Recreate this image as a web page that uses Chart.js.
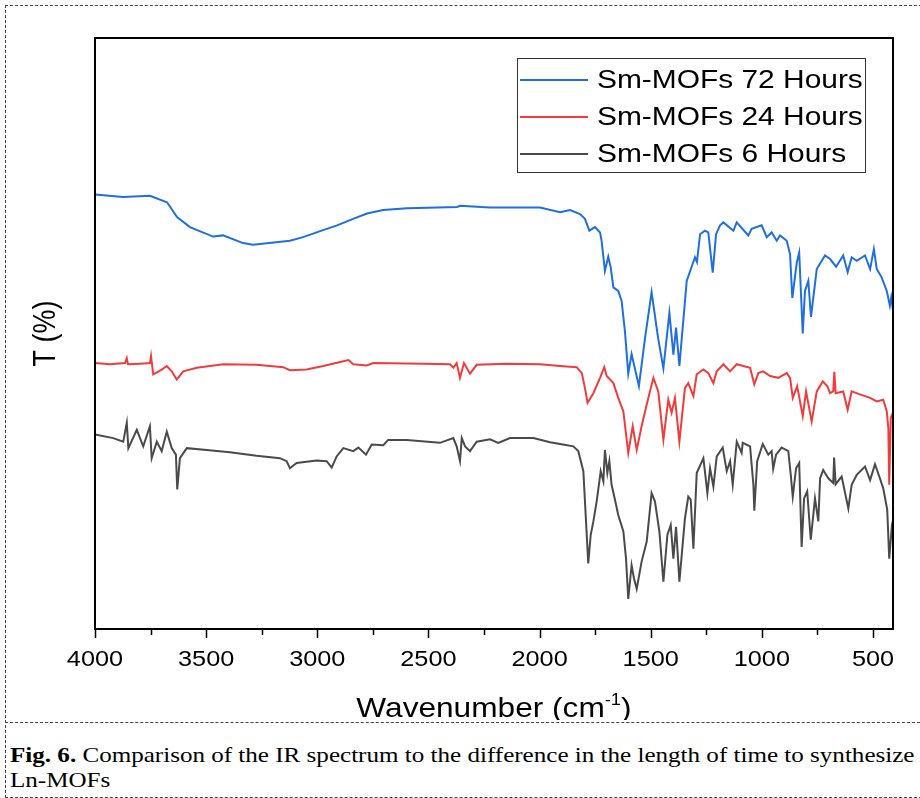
<!DOCTYPE html>
<html>
<head>
<meta charset="utf-8">
<script src="https://cdn.jsdelivr.net/npm/chart.js@4"></script>
<style>
  html, body { margin: 0; padding: 0; background: #fff; }
  body { width: 920px; height: 798px; position: relative; overflow: hidden; }
  #wrap { position: absolute; left: 0; top: 0; width: 920px; height: 720px; }
  #frame { position: absolute; left: 5px; top: 5px; width: 940px; height: 791px; border: 1px dashed #444; }
  #sep { position: absolute; left: 5px; top: 722px; width: 940px; border-top: 1px dashed #444; }
  #caption { position: absolute; left: 10px; top: 743px; font-family: "Liberation Serif", "Times New Roman", serif; font-size: 21.8px; line-height: 25px; color: #000; white-space: nowrap; transform: scaleX(1.15); transform-origin: 0 0; }
</style>
</head>
<body>
<div id="frame"></div>
<div id="wrap"><canvas id="irChart" width="920" height="720"></canvas></div>
<div id="sep"></div>
<div id="caption"><b>Fig. 6.</b> Comparison of the IR spectrum to the difference in the length of time to synthesize<br>Ln-MOFs</div>
<script>
const seriesNames = ['Sm-MOFs 72 Hours', 'Sm-MOFs 24 Hours', 'Sm-MOFs 6 Hours'];
const seriesColors = ['#1f6fdf', '#f03c3c', '#4a4a4a'];
const xTicks = [4000, 3500, 3000, 2500, 2000, 1500, 1000, 500];

// 72 h
const wn72 = [4000, 3874, 3753, 3676, 3631, 3573, 3469, 3424, 3334, 3289, 3123, 3064, 2974, 2911, 2839, 2776, 2704, 2596, 2371, 2358, 2223, 1998,
  1908, 1863, 1818, 1796, 1776, 1751, 1728, 1721, 1706, 1691, 1680, 1668, 1646, 1631, 1616, 1601, 1586, 1553, 1526, 1496, 1467, 1443, 1416,
  1398, 1386, 1371, 1338, 1301, 1292, 1278, 1256, 1241, 1221, 1206, 1188, 1173, 1128, 1113, 1061, 1046, 1001, 978, 956, 933, 918, 888, 873,
  863, 843, 832, 816, 806, 791, 779, 753, 716, 693, 666, 634, 614, 596, 573, 536, 513, 496, 483, 461, 438, 424, 418, 410];
const t72 = [73.5, 73.1, 73.3, 72.2, 69.7, 68.0, 66.4, 66.6, 65.3, 65.0, 65.7, 66.3, 67.5, 68.3, 69.4, 70.3, 70.9, 71.2, 71.4, 71.6, 71.3, 71.3,
  70.5, 70.9, 70.2, 69.4, 67.4, 68.0, 67.1, 65.7, 60.6, 63.0, 61.2, 57.8, 57.2, 55.5, 50.4, 43.2, 46.5, 41.1, 49.1, 57.0, 49.3, 44.1, 53.5,
  46.4, 51.0, 44.5, 58.9, 62.9, 62.1, 66.8, 67.4, 67.1, 60.3, 66.8, 68.3, 68.8, 67.4, 68.8, 66.6, 67.7, 68.3, 66.3, 67.1, 65.7, 66.6, 65.7, 63.4,
  56.0, 62.0, 63.7, 50.0, 57.2, 58.9, 52.8, 60.9, 63.2, 62.6, 61.3, 63.2, 60.4, 62.9, 62.3, 63.2, 60.9, 64.3, 60.9, 59.5, 57.2, 54.7, 56.1, 54.0];

// 24 h
const wn24 = [4000, 3933, 3865, 3857, 3852, 3798, 3753, 3748, 3738, 3700, 3677, 3655, 3632, 3603, 3542, 3423, 3273, 3153, 3123, 3048, 2973,
  2883, 2860, 2838, 2778, 2748, 2523, 2403, 2388, 2373, 2358, 2340, 2313, 2283, 2148, 1998, 1908, 1833, 1810, 1796, 1784, 1758, 1728, 1709,
  1698, 1668, 1646, 1623, 1601, 1581, 1563, 1541, 1518, 1488, 1466, 1443, 1421, 1406, 1391, 1371, 1346, 1331, 1308, 1293, 1263, 1241, 1218,
  1203, 1173, 1143, 1113, 1053, 1034, 1016, 994, 963, 926, 888, 873, 861, 841, 816, 801, 776, 753, 726, 706, 693, 679, 674, 668, 634, 614,
  596, 559, 513, 483, 454, 438, 431, 427, 420, 410];
const t24 = [45.0, 44.8, 45.0, 45.8, 44.8, 44.9, 45.0, 46.2, 43.1, 43.9, 44.5, 43.6, 42.2, 43.6, 44.2, 44.8, 44.7, 44.3, 43.8, 43.9, 44.5,
  45.3, 45.5, 44.8, 44.6, 45.0, 44.9, 44.8, 44.2, 45.0, 42.5, 45.0, 43.2, 44.7, 44.9, 44.8, 44.5, 44.3, 43.3, 40.8, 38.3, 39.9, 42.5, 44.3,
  42.8, 41.6, 39.1, 36.8, 29.8, 34.3, 30.3, 34.3, 38.0, 42.5, 40.2, 32.0, 38.8, 36.6, 39.1, 31.7, 40.8, 41.6, 39.4, 43.1, 43.9, 43.3, 41.6,
  43.6, 44.8, 43.6, 44.8, 44.2, 41.4, 43.3, 43.6, 42.8, 42.5, 43.3, 42.5, 39.1, 41.1, 36.0, 40.2, 35.1, 40.2, 41.9, 41.1, 39.9, 40.2, 43.5, 39.9, 40.2, 37.1,
  40.2, 39.7, 39.1, 38.5, 38.8, 36.8, 34.0, 24.4, 35.7, 36.6];

// 6 h
const wn6 = [4000, 3918, 3873, 3857, 3850, 3812, 3783, 3753, 3745, 3722, 3700, 3677, 3655, 3636, 3630, 3618, 3587, 3498, 3393, 3273, 3168,
  3138, 3123, 3093, 3003, 2958, 2935, 2913, 2883, 2838, 2815, 2781, 2755, 2703, 2681, 2598, 2448, 2388, 2373, 2358, 2350, 2335, 2313, 2283,
  2223, 2186, 2133, 2028, 1953, 1908, 1848, 1826, 1803, 1791, 1781, 1770, 1758, 1743, 1725, 1713, 1706, 1695, 1686, 1676, 1661, 1646, 1623,
  1611, 1601, 1586, 1575, 1563, 1541, 1518, 1496, 1481, 1461, 1443, 1425, 1410, 1398, 1386, 1371, 1346, 1331, 1320, 1308, 1293, 1263, 1245,
  1233, 1218, 1203, 1176, 1158, 1143, 1131, 1113, 1091, 1086, 1053, 1038, 1034, 1021, 996, 971, 956, 949, 936, 911, 881, 870, 861, 846, 832,
  821, 810, 796, 780, 761, 746, 738, 724, 701, 679, 675, 668, 641, 611, 596, 573, 536, 513, 491, 469, 454, 436, 427, 416, 410];
const t6 = [32.9, 32.3, 31.7, 34.9, 30.6, 33.7, 30.9, 34.3, 28.9, 31.7, 30.1, 33.4, 30.6, 29.5, 23.6, 28.9, 30.6, 30.3, 29.9, 29.3, 28.9,
  28.4, 27.2, 28.1, 28.5, 28.4, 27.3, 29.2, 30.6, 30.1, 30.7, 29.5, 31.2, 31.1, 32.0, 32.0, 31.5, 32.3, 30.9, 28.4, 32.3, 30.9, 30.1, 31.7,
  32.1, 31.5, 32.3, 32.3, 31.6, 31.3, 30.9, 30.1, 26.7, 18.2, 11.1, 15.9, 18.2, 21.6, 26.7, 25.0, 30.3, 26.4, 28.4, 24.4, 21.9, 19.3, 16.5,
  11.9, 5.1, 10.8, 8.5, 6.8, 11.4, 14.8, 23.0, 21.6, 16.5, 8.0, 15.9, 17.6, 11.9, 17.3, 8.0, 18.7, 22.4, 21.9, 13.6, 26.4, 28.9, 23.0,
  27.2, 24.1, 29.2, 30.7, 26.7, 28.4, 24.4, 31.7, 29.8, 31.5, 30.9, 24.4, 20.0, 28.4, 31.3, 29.5, 30.1, 27.1, 29.5, 30.7, 30.1, 26.1, 22.4, 27.2, 28.1,
  13.9, 22.1, 23.3, 15.1, 22.1, 18.2, 25.5, 26.9, 25.5, 24.7, 29.0, 24.5, 25.8, 20.4, 24.4, 26.1, 27.5, 25.2, 27.9, 25.5, 23.8, 20.2, 11.9, 17.0, 15.6];

const toPoints = (xs, ys) => xs.map((x, i) => ({ x: x, y: ys[i] }));

// the source figure is stretched sideways a little, so its text is too
const STRETCH = 1.15;
const FONT = '"Liberation Sans", Arial, sans-serif';

function wideText(c, text, x, y, font, align) {
  c.save();
  c.font = font;
  c.textAlign = align || 'left';
  c.translate(x, y);
  c.scale(STRETCH, 1);
  c.fillText(text, 0, 0);
  c.restore();
}

const frameAndLabels = {
  id: 'frameAndLabels',
  afterDraw(chart) {
    const c = chart.ctx;
    const a = chart.chartArea;
    const xs = chart.scales.x;
    c.save();
    // box
    c.strokeStyle = '#000';
    c.lineWidth = 2;
    c.strokeRect(a.left, a.top, a.right - a.left, a.bottom - a.top);
    // ticks and tick labels
    c.lineWidth = 1.5;
    c.fillStyle = '#000';
    c.textBaseline = 'alphabetic';
    for (let v = 4000; v >= 500; v -= 250) {
      const px = Math.round(xs.getPixelForValue(v)) + 0.5;
      const major = v % 500 === 0;
      c.beginPath();
      c.moveTo(px, a.bottom);
      c.lineTo(px, a.bottom + (major ? 9 : 6));
      c.stroke();
    }
    xTicks.forEach(v => {
      wideText(c, String(v), xs.getPixelForValue(v), a.bottom + 37, '22px ' + FONT, 'center');
    });
    // x title with superscript
    const big = '27.5px ' + FONT, small = '16px ' + FONT;
    const p1 = 'Wavenumber (cm', p2 = '-1', p3 = ')';
    c.font = big; const w1 = c.measureText(p1).width * STRETCH, w3 = c.measureText(p3).width * STRETCH;
    c.font = small; const w2 = c.measureText(p2).width * STRETCH;
    let tx = (a.left + a.right) / 2 - (w1 + w2 + w3) / 2;
    const ty = a.bottom + 88;
    wideText(c, p1, tx, ty, big); tx += w1;
    wideText(c, p2, tx, ty - 12, small); tx += w2;
    wideText(c, p3, tx, ty, big);
    // y title
    c.save();
    c.translate(46, (a.top + a.bottom) / 2);
    c.scale(STRETCH, 1);
    c.rotate(-Math.PI / 2);
    c.textAlign = 'center';
    c.textBaseline = 'middle';
    c.font = '27px ' + FONT;
    c.fillText('T (%)', 0, 0);
    c.restore();
    // legend
    const lx = 517, ly = 58, lw = 348, lh = 114;
    c.fillStyle = '#fff';
    c.fillRect(lx, ly, lw, lh);
    c.strokeStyle = '#333';
    c.lineWidth = 1;
    c.strokeRect(lx + 0.5, ly + 0.5, lw, lh);
    c.textBaseline = 'middle';
    seriesNames.forEach((name, i) => {
      const y = ly + 22 + i * 37;
      c.strokeStyle = seriesColors[i];
      c.lineWidth = 2;
      c.beginPath();
      c.moveTo(lx + 3, y);
      c.lineTo(lx + 71, y);
      c.stroke();
      c.fillStyle = '#000';
      wideText(c, name, lx + 80, y + 1, '26px ' + FONT);
    });
    c.restore();
  }
};

new Chart(document.getElementById('irChart'), {
  type: 'line',
  data: {
    datasets: [
      { label: seriesNames[0], data: toPoints(wn72, t72), borderColor: seriesColors[0] },
      { label: seriesNames[1], data: toPoints(wn24, t24), borderColor: seriesColors[1] },
      { label: seriesNames[2], data: toPoints(wn6, t6), borderColor: seriesColors[2] }
    ]
  },
  options: {
    responsive: false,
    animation: false,
    parsing: false,
    layout: { padding: { left: 87, right: 27, top: 38, bottom: 83 } },
    elements: {
      line: { borderWidth: 2, tension: 0 },
      point: { radius: 0 }
    },
    scales: {
      x: {
        type: 'linear',
        reverse: true,
        min: 410,
        max: 4000,
        afterBuildTicks: (axis) => { axis.ticks = xTicks.map(v => ({ value: v })); },
        grid: { display: false },
        border: { display: false },
        ticks: { display: false }
      },
      y: {
        min: 0,
        max: 100,
        grid: { display: false },
        border: { display: false },
        ticks: { display: false }
      }
    },
    plugins: {
      legend: { display: false },
      tooltip: { enabled: false }
    }
  },
  plugins: [frameAndLabels]
});
</script>
</body>
</html>
